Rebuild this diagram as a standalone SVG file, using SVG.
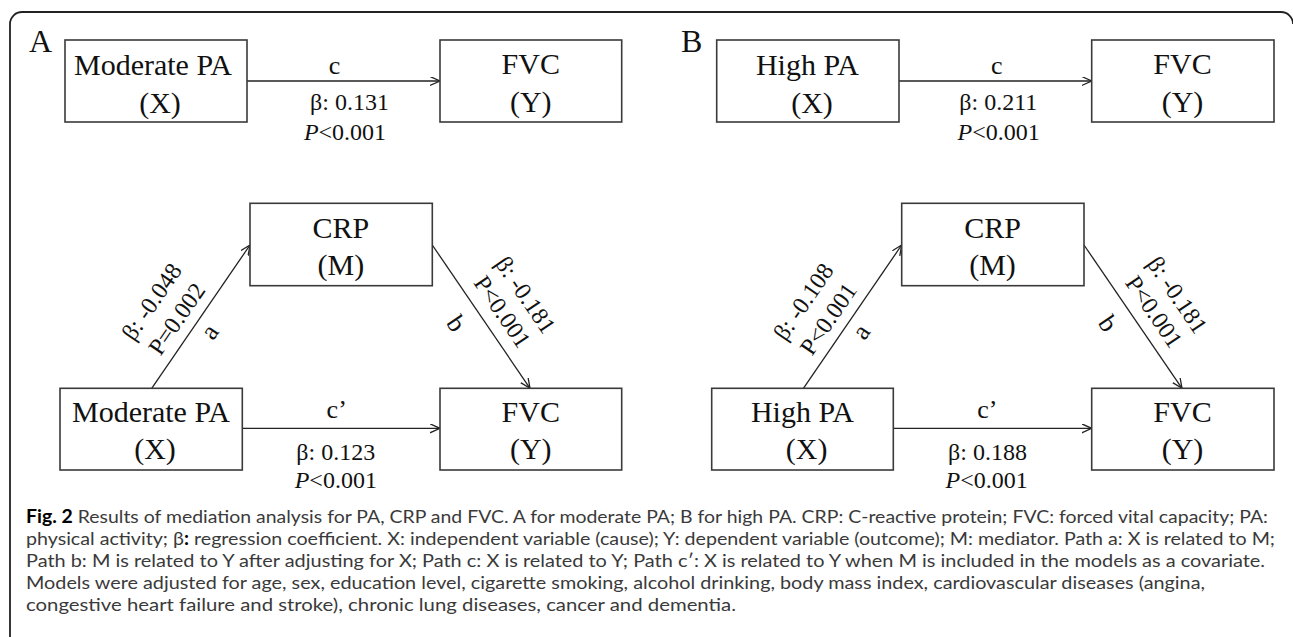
<svg xmlns="http://www.w3.org/2000/svg" width="1293" height="637" viewBox="0 0 1293 637">
<style>
.box{fill:#fff;stroke:#3a3a3a;stroke-width:1.6}
.conn{stroke:#222;stroke-width:1.3;fill:none}
.t{font-family:"Liberation Serif","Times New Roman",serif;fill:#111;text-anchor:middle}
.n{font-size:30px}
.s{font-size:24px}
.p{font-size:26px}
.pl{font-family:"Liberation Serif","Times New Roman",serif;font-size:32px;fill:#111}
.cap{font-family:Lato,"Open Sans",sans-serif;font-size:18px;fill:#3a3a3a}
</style>
<defs>
<marker id="arr" markerUnits="userSpaceOnUse" markerWidth="12" markerHeight="10" refX="10" refY="4.5" orient="auto">
<path d="M0,0 L10,4.5 L0,9" fill="none" stroke="#222" stroke-width="1.3"/>
</marker>
</defs>
<rect width="1293" height="637" fill="#fff"/>
<path d="M10,637 V24 A12,12 0 0 1 22,12 H1281 A12,12 0 0 1 1293,24" fill="none" stroke="#222" stroke-width="1.8"/>

<text class="pl" x="29" y="52">A</text>
<text class="pl" x="681" y="52">B</text>

<g id="connectors">
<line class="conn" x1="247" y1="81" x2="440" y2="81" marker-end="url(#arr)"/>
<line class="conn" x1="899" y1="81" x2="1091.7" y2="81" marker-end="url(#arr)"/>
<line class="conn" x1="242.3" y1="428.3" x2="440" y2="428.3" marker-end="url(#arr)"/>
<line class="conn" x1="893.3" y1="428.3" x2="1091.7" y2="428.3" marker-end="url(#arr)"/>
<line class="conn" x1="151.7" y1="388.3" x2="250" y2="245" marker-end="url(#arr)"/>
<line class="conn" x1="432.3" y1="245" x2="530" y2="388.3" marker-end="url(#arr)"/>
<line class="conn" x1="803.4" y1="388.3" x2="901.7" y2="245" marker-end="url(#arr)"/>
<line class="conn" x1="1084" y1="245" x2="1182" y2="388.3" marker-end="url(#arr)"/>
</g>

<g id="labels">
<text class="t p" x="334.5" y="73.5">c</text>
<text class="t s" x="349.5" y="110">β: 0.131</text>
<text class="t s" x="345" y="140"><tspan font-style="italic">P</tspan>&lt;0.001</text>
<text class="t p" x="996.7" y="73.5">c</text>
<text class="t s" x="998.3" y="110">β: 0.211</text>
<text class="t s" x="998.7" y="140"><tspan font-style="italic">P</tspan>&lt;0.001</text>
<text class="t p" x="336.7" y="418.3">c’</text>
<text class="t s" x="335.8" y="460">β: 0.123</text>
<text class="t s" x="335.8" y="488"><tspan font-style="italic">P</tspan>&lt;0.001</text>
<text class="t p" x="987.3" y="418.3">c’</text>
<text class="t s" x="987.5" y="460">β: 0.188</text>
<text class="t s" x="986.7" y="488"><tspan font-style="italic">P</tspan>&lt;0.001</text>
<g transform="translate(151.7,388.3) rotate(-55.55)">
<text class="t s" x="71.4" y="-41">β: -0.048</text>
<text class="t s" x="71.3" y="-10.6">P=0.002</text>
<text class="t p" x="79.4" y="24">a</text>
</g>
<g transform="translate(432.3,245) rotate(55.71)">
<text class="t s" x="93.9" y="-41">β: -0.181</text>
<text class="t s" x="94.5" y="-12.3">P&lt;0.001</text>
<text class="t p" x="78.4" y="33">b</text>
</g>
<g transform="translate(803.4,388.3) rotate(-55.55)">
<text class="t s" x="71.4" y="-41">β: -0.108</text>
<text class="t s" x="71.3" y="-10.6">P&lt;0.001</text>
<text class="t p" x="79.4" y="24">a</text>
</g>
<g transform="translate(1084,245) rotate(55.71)">
<text class="t s" x="93.9" y="-41">β: -0.181</text>
<text class="t s" x="94.5" y="-12.3">P&lt;0.001</text>
<text class="t p" x="78.4" y="33">b</text>
</g>
</g>

<g id="nodeA_X_top"><rect class="box" x="65" y="40" width="182" height="82"/><text class="t n" x="153" y="75">Moderate PA</text><text class="t n" x="160" y="113">(X)</text></g>
<g id="nodeA_Y_top"><rect class="box" x="440" y="40" width="181.7" height="82"/><text class="t n" x="530.8" y="74">FVC</text><text class="t n" x="530.8" y="112">(Y)</text></g>
<g id="nodeB_X_top"><rect class="box" x="716.7" y="40" width="182.3" height="82"/><text class="t n" x="807.5" y="75">High PA</text><text class="t n" x="812" y="113">(X)</text></g>
<g id="nodeB_Y_top"><rect class="box" x="1091.7" y="40" width="182.3" height="82"/><text class="t n" x="1182.5" y="74">FVC</text><text class="t n" x="1182.5" y="112">(Y)</text></g>

<g id="nodeA_M"><rect class="box" x="250" y="203.3" width="182.3" height="82.4"/><text class="t n" x="340.8" y="238.3">CRP</text><text class="t n" x="340.8" y="275">(M)</text></g>
<g id="nodeB_M"><rect class="box" x="901.7" y="203.3" width="182.3" height="82.4"/><text class="t n" x="992.5" y="238.3">CRP</text><text class="t n" x="992.5" y="275">(M)</text></g>

<g id="nodeA_X_bot"><rect class="box" x="60" y="388.3" width="182.3" height="81.7"/><text class="t n" x="151" y="422">Moderate PA</text><text class="t n" x="155" y="459">(X)</text></g>
<g id="nodeA_Y_bot"><rect class="box" x="440" y="388.3" width="181.7" height="81.7"/><text class="t n" x="530.8" y="422">FVC</text><text class="t n" x="530.8" y="459">(Y)</text></g>
<g id="nodeB_X_bot"><rect class="box" x="711.7" y="388.3" width="181.6" height="81.7"/><text class="t n" x="802.5" y="422">High PA</text><text class="t n" x="806.7" y="459">(X)</text></g>
<g id="nodeB_Y_bot"><rect class="box" x="1091.7" y="388.3" width="182.3" height="81.7"/><text class="t n" x="1182.5" y="422">FVC</text><text class="t n" x="1182.5" y="459">(Y)</text></g>

<g id="caption">
<text class="cap" x="26" y="523" textLength="1242" lengthAdjust="spacingAndGlyphs"><tspan font-weight="bold" fill="#000">Fig. 2</tspan> Results of mediation analysis for PA, CRP and FVC. A for moderate PA; B for high PA. CRP: C-reactive protein; FVC: forced vital capacity; PA:</text>
<text class="cap" x="26" y="545" textLength="1249" lengthAdjust="spacingAndGlyphs">physical activity; β<tspan font-weight="bold" fill="#000">:</tspan> regression coefficient. X: independent variable (cause); Y: dependent variable (outcome); M: mediator. Path a: X is related to M;</text>
<text class="cap" x="26" y="567" textLength="1239" lengthAdjust="spacingAndGlyphs">Path b: M is related to Y after adjusting for X; Path c: X is related to Y; Path c′: X is related to Y when M is included in the models as a covariate.</text>
<text class="cap" x="26" y="589" textLength="1179" lengthAdjust="spacingAndGlyphs">Models were adjusted for age, sex, education level, cigarette smoking, alcohol drinking, body mass index, cardiovascular diseases (angina,</text>
<text class="cap" x="26" y="610.5" textLength="710" lengthAdjust="spacingAndGlyphs">congestive heart failure and stroke), chronic lung diseases, cancer and dementia.</text>
</g>
</svg>
